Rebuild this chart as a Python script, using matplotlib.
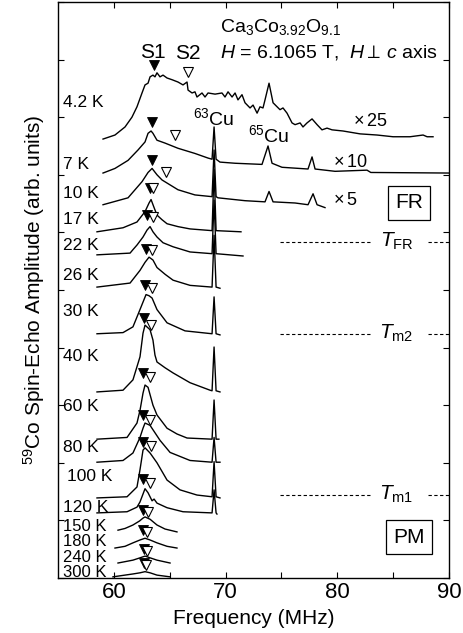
import matplotlib
matplotlib.use("Agg")
import numpy as np
import matplotlib.pyplot as plt

plt.rcParams['font.family'] = ['Liberation Sans', 'DejaVu Sans']
plt.rcParams['mathtext.fontset'] = 'custom'
plt.rcParams['mathtext.rm'] = 'Liberation Sans'
plt.rcParams['mathtext.it'] = 'Liberation Sans:italic'
plt.rcParams['mathtext.bf'] = 'Liberation Sans:bold'

# ---------------- data ----------------
temps = ['4.2 K', '7 K', '10 K', '17 K', '22 K', '26 K', '30 K', '40 K',
         '60 K', '80 K', '100 K', '120 K', '150 K', '180 K', '240 K', '300 K']
# vertical stacking offset of each spectrum (arb. units)
offsets = [7.64, 7.01, 6.48, 6.01, 5.61, 5.03, 4.24, 3.23,
           2.41, 2.01, 1.39, 1.13, 0.83, 0.52, 0.26, 0.02]

f_4p2 = [59.03, 60.10, 61.00, 61.62, 62.07, 62.52, 62.79, 63.06, 63.24, 63.50,
         63.68, 63.86, 64.13, 64.40, 64.76, 65.21, 65.74, 66.19, 66.55, 66.64,
         67.00, 67.26, 67.44, 67.89, 68.16, 68.43, 69.06, 69.68, 69.95, 70.22,
         70.58, 70.85, 71.11, 71.47, 71.74, 72.19, 72.46, 72.82, 73.08, 73.35,
         73.53, 73.89, 74.25, 74.61, 74.87, 75.14, 75.50, 75.95, 76.22, 76.67,
         76.93, 77.29, 77.74, 78.19, 78.63, 79.08, 79.53, 80.51, 82.04, 83.56,
         84.99, 86.51, 87.68, 88.04, 88.57]
a_4p2 = [-0.02, 0.05, 0.19, 0.36, 0.54, 0.78, 0.92, 0.95, 1.06, 1.09,
         1.06, 1.13, 1.06, 1.09, 1.04, 1.01, 0.97, 0.92, 0.97, 0.83,
         0.78, 0.80, 0.71, 0.78, 0.71, 0.78, 0.76, 0.78, 0.71, 0.80,
         0.71, 0.78, 0.66, 0.75, 0.61, 0.52, 0.57, 0.43, 0.54, 0.52,
         0.66, 0.95, 0.61, 0.54, 0.49, 0.52, 0.43, 0.26, 0.23, 0.26,
         0.19, 0.26, 0.33, 0.23, 0.14, 0.17, 0.14, 0.12, 0.07, 0.05,
         0.02, 0.02, 0.05, 0.02, 0.02]

f_7 = [59.03, 60.10, 61.27, 62.16, 62.79, 63.06, 63.33, 63.50, 63.86, 64.58,
       65.74, 67.26, 68.43, 68.79, 68.97, 69.15, 69.50, 70.85, 73.26, 73.80,
       74.16, 75.05, 77.38, 77.74, 78.01, 79.80, 82.66, 83.00, 90.00]
a_7 = [0.02, 0.10, 0.24, 0.42, 0.56, 0.71, 0.75, 0.71, 0.59, 0.54,
       0.45, 0.36, 0.28, 0.26, 0.82, 0.26, 0.21, 0.19, 0.17, 0.49,
       0.19, 0.12, 0.09, 0.30, 0.09, 0.05, 0.07, 0.03, 0.02]

f_10 = [59.03, 61.27, 62.52, 63.06, 63.42, 63.86, 64.31, 65.74, 67.26, 68.79,
        68.97, 69.15, 69.32, 71.74, 73.53, 73.89, 74.25, 76.22, 77.38, 77.83,
        78.19, 78.90]
a_10 = [0.00, 0.12, 0.40, 0.56, 0.63, 0.52, 0.43, 0.26, 0.17, 0.14,
        0.95, 0.14, 0.12, 0.07, 0.05, 0.23, 0.05, 0.03, 0.00, 0.19,
        0.00, -0.05]

f_17 = [58.49, 60.82, 62.07, 62.79, 63.15, 63.33, 63.60, 63.86, 64.31, 64.76,
        65.74, 66.82, 68.79, 68.97, 69.15, 71.38]
a_17 = [0.00, 0.07, 0.17, 0.35, 0.50, 0.56, 0.42, 0.29, 0.21, 0.14,
        0.09, 0.05, 0.02, 1.08, 0.02, 0.00]

f_22 = [58.49, 61.45, 61.71, 62.07, 62.61, 62.97, 63.24, 63.50, 63.86, 64.40,
        65.30, 66.82, 68.79, 68.97, 69.15, 71.56]
a_22 = [0.00, 0.03, 0.09, 0.17, 0.31, 0.43, 0.49, 0.40, 0.31, 0.21,
        0.14, 0.05, 0.02, 0.95, 0.02, -0.02]

f_26 = [58.49, 61.45, 62.34, 62.79, 63.15, 63.50, 63.86, 64.60, 65.30, 66.82,
        68.79, 68.97, 69.15, 69.50]
a_26 = [0.02, 0.09, 0.31, 0.45, 0.54, 0.49, 0.36, 0.24, 0.14, 0.05,
        0.02, 0.92, 0.02, 0.00]

f_30 = [58.49, 60.82, 61.71, 62.34, 62.88, 63.15, 63.42, 63.86, 64.76, 66.37,
        68.79, 68.97, 69.15, 69.50]
a_30 = [0.00, 0.02, 0.12, 0.42, 0.68, 0.66, 0.62, 0.42, 0.19, 0.05,
        0.00, 0.64, 0.00, -0.02]

f_40 = [58.49, 60.82, 61.71, 62.34, 62.61, 62.79, 63.24, 63.50, 63.68, 63.86,
        64.58, 65.30, 66.82, 68.61, 68.79, 68.97, 69.15, 69.50]
a_40 = [0.00, 0.03, 0.21, 0.61, 1.02, 1.16, 1.08, 0.90, 0.64, 0.52,
        0.42, 0.33, 0.16, 0.03, 0.02, 0.78, 0.02, 0.00]

f_60 = [58.49, 61.18, 62.07, 62.34, 62.61, 62.79, 63.06, 63.50, 63.86, 64.76,
        65.65, 66.55, 68.79, 68.97, 69.15, 69.40]
a_60 = [0.00, 0.03, 0.28, 0.50, 0.80, 0.94, 0.90, 0.59, 0.42, 0.19,
        0.09, 0.02, 0.00, 0.68, 0.00, 0.00]

f_80 = [58.49, 60.82, 61.71, 62.34, 62.61, 62.79, 63.24, 64.13, 65.03, 66.82,
        68.79, 68.97, 69.15, 69.50]
a_80 = [0.00, 0.03, 0.16, 0.43, 0.59, 0.68, 0.64, 0.38, 0.17, 0.03,
        0.00, 0.43, 0.00, 0.00]

f_100 = [58.49, 61.18, 62.07, 62.34, 62.61, 62.79, 63.24, 63.86, 64.76, 65.92,
         67.44, 68.79, 68.97, 69.15, 69.50]
a_100 = [0.00, 0.02, 0.19, 0.49, 0.83, 0.87, 0.78, 0.61, 0.31, 0.14,
         0.05, 0.02, 0.63, 0.02, 0.00]

f_120 = [58.49, 61.18, 62.07, 62.34, 62.79, 63.06, 63.24, 63.42, 63.60, 63.86,
         64.76, 66.19, 68.79, 68.97, 69.15, 69.23]
a_120 = [0.00, 0.02, 0.10, 0.19, 0.42, 0.35, 0.28, 0.21, 0.24, 0.17,
         0.09, 0.02, 0.00, 0.40, 0.00, -0.02]

f_150 = [60.37, 61.00, 61.71, 62.30, 62.61, 62.79, 63.24, 63.86, 64.58, 65.65]
a_150 = [0.00, 0.03, 0.09, 0.16, 0.21, 0.23, 0.19, 0.09, 0.02, -0.03]

f_180 = [60.10, 61.00, 61.71, 62.34, 62.79, 63.24, 63.86, 64.76, 65.65]
a_180 = [0.00, 0.03, 0.09, 0.14, 0.17, 0.14, 0.09, 0.03, 0.00]

f_240 = [60.37, 61.71, 62.34, 62.79, 63.24, 63.86, 65.03]
a_240 = [0.00, 0.05, 0.09, 0.12, 0.09, 0.05, 0.00]

f_300 = [59.92, 61.71, 62.34, 62.79, 63.24, 63.86, 65.03]
a_300 = [0.00, 0.05, 0.07, 0.09, 0.07, 0.03, 0.00]

spectra = [(f_4p2, a_4p2), (f_7, a_7), (f_10, a_10), (f_17, a_17),
           (f_22, a_22), (f_26, a_26), (f_30, a_30), (f_40, a_40),
           (f_60, a_60), (f_80, a_80), (f_100, a_100), (f_120, a_120),
           (f_150, a_150), (f_180, a_180), (f_240, a_240), (f_300, a_300)]

# S1 (filled) and S2 (open) peak positions, marker height above baseline
s1_freq = [63.60, 63.42, 63.42, 63.24, 62.97, 62.88, 62.79, 62.70,
           62.61, 62.61, 62.61, 62.61, 62.61, 62.61, 62.70, 62.70]
s1_amp = [1.26, 0.90, 0.78, 0.76, 0.69, 0.69, 0.85, 1.28,
          1.15, 0.82, 0.97, 0.59, 0.35, 0.31, 0.24, 0.24]
s2_freq = [66.60, 65.47, 64.67, 63.50, 63.50, 63.42, 63.42, 63.33,
           63.24, 63.24, 63.33, 63.24, 63.06, 62.97, 62.97, 62.88]
s2_amp = [1.15, 0.68, 0.56, 0.76, 0.66, 0.66, 0.80, 1.16,
          1.08, 0.73, 0.90, 0.52, 0.31, 0.28, 0.21, 0.21]

# vertical position of each temperature label
label_y = [8.25, 7.17, 6.68, 6.22, 5.78, 5.26, 4.62, 3.84,
           2.97, 2.26, 1.77, 1.23, 0.90, 0.625, 0.36, 0.10]

# magnetic transition temperatures (dashed markers on the right)
transitions = [(r'$T_{\rm FR}$', 5.83), (r'$T_{\rm m2}$', 4.24), (r'$T_{\rm m1}$', 1.44)]
scale_factors = [(r'$\times\,$25', 81.4, 7.92), (r'$\times\,$10', 79.6, 7.22),
                 (r'$\times\,$5', 79.6, 6.56)]

# ---------------- figure ----------------
fig = plt.figure(figsize=(4.64, 6.33), dpi=100)
ax = fig.add_axes([0.125, 0.0869, 0.8427, 0.91])

for (f, a), off in zip(spectra, offsets):
    ax.plot(f, off + np.asarray(a), color='k', lw=1.0, zorder=2)

ax.plot(s1_freq, np.asarray(offsets) + np.asarray(s1_amp), ls='none',
        marker='v', ms=6.5, mfc='k', mec='k', mew=0.6, zorder=3)
ax.plot(s2_freq, np.asarray(offsets) + np.asarray(s2_amp), ls='none',
        marker='v', ms=6.5, mfc='white', mec='k', mew=0.8, zorder=3)

for t, y in zip(temps, label_y):
    x = 55.8 if t == '100 K' else 55.45
    size = 12 if t in ('150 K', '180 K', '240 K', '300 K') else 12.5
    ax.text(x, y, t, fontsize=size, ha='left', va='center')

# annotations
ax.text(74.87, 9.57, r'Ca$_3$Co$_{3.92}$O$_{9.1}$', fontsize=14,
        ha='center', va='center')
ax.text(88.93, 9.13, r'$H$ = 6.1065 T,  $H$$\perp$$\,c$ axis', fontsize=14,
        ha='right', va='center')
ax.text(63.5, 9.13, 'S1', fontsize=15, ha='center', va='center')
ax.text(66.64, 9.10, 'S2', fontsize=15, ha='center', va='center')
ax.text(68.97, 7.99, r'$^{63}$Cu', fontsize=14, ha='center', va='center')
ax.text(73.89, 7.69, r'$^{65}$Cu', fontsize=14, ha='center', va='center')
for s, x, y in scale_factors:
    ax.text(x, y, s, fontsize=13, ha='left', va='center')

box = dict(boxstyle='square,pad=0.36', fc='white', ec='k', lw=0.9)
ax.text(86.42, 6.51, 'FR', fontsize=15, ha='center', va='center', bbox=box)
ax.text(86.42, 0.71, 'PM', fontsize=15, ha='center', va='center', bbox=box)

for lab, y in transitions:
    ax.plot([74.87, 83.11], [y, y], color='k', lw=0.8, ls=(0, (3, 2.2)))
    ax.plot([88.13, 90.0], [y, y], color='k', lw=0.8, ls=(0, (3, 2.2)))
    ax.text(85.3, y - 0.08, lab, fontsize=15, ha='center', va='baseline')

# axes
ax.set_xlim(55, 90)
ax.set_ylim(0, 10)
ax.set_xticks([60, 70, 80, 90])
ax.set_xticks([65, 75, 85], minor=True)
ax.set_yticks(range(0, 11))
ax.tick_params(which='both', direction='in', top=True, right=True,
               length=4.3, width=0.8, labelsize=16, pad=3)
ax.tick_params(axis='y', labelleft=False)
for sp in ax.spines.values():
    sp.set_linewidth(1.0)

ax.set_xlabel('Frequency (MHz)', fontsize=15)
ax.set_ylabel(r'$^{59}$Co Spin-Echo Amplitude (arb. units)', fontsize=15)
ax.yaxis.set_label_coords(-0.028, 0.5)

fig.savefig('out.png', dpi=100)
